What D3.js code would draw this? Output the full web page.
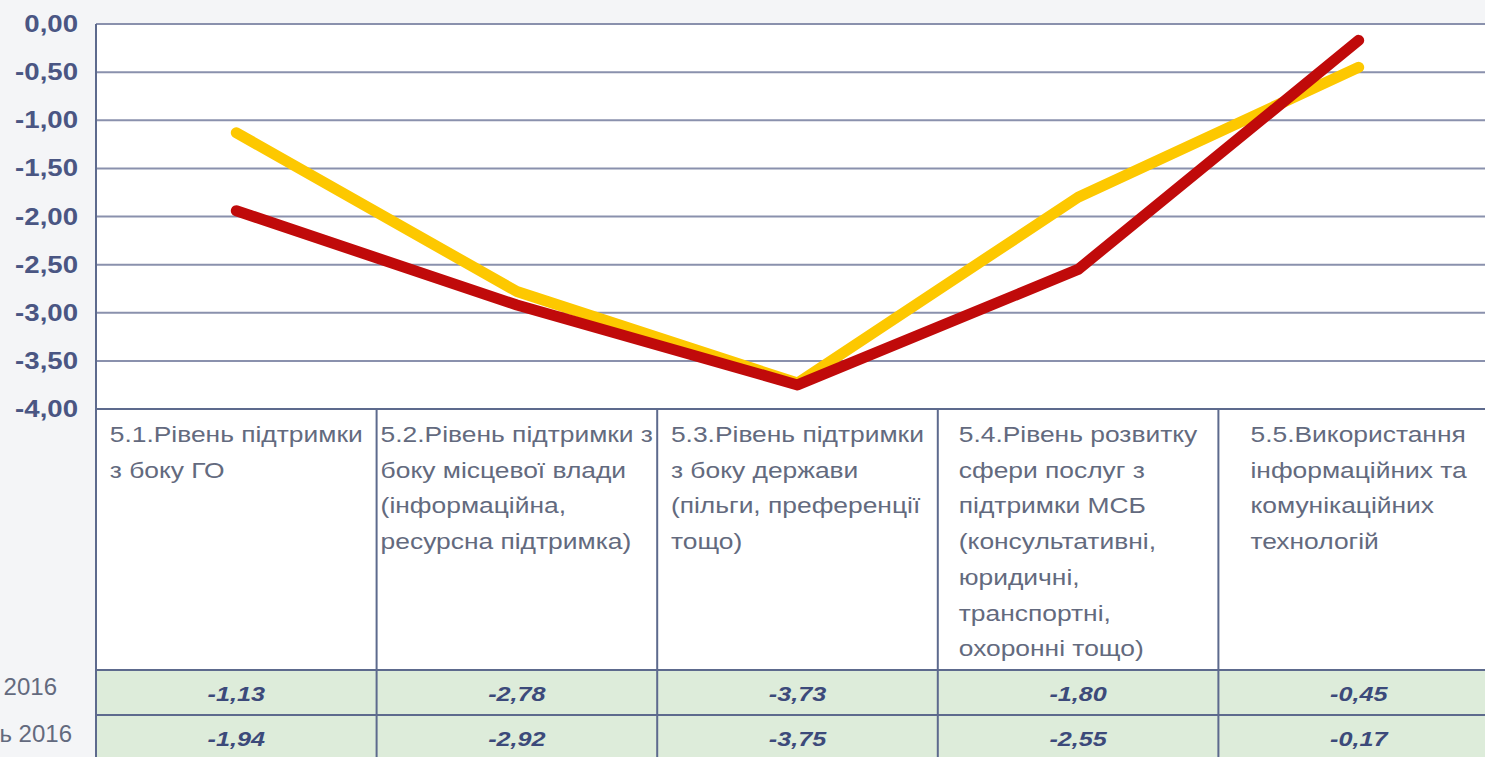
<!DOCTYPE html>
<html>
<head>
<meta charset="utf-8">
<script src="https://cdn.jsdelivr.net/npm/d3@7"></script>
<style>
  html, body { margin: 0; padding: 0; background: #f4f5f7; overflow: hidden; }
  svg { display: block; }
</style>
</head>
<body>
<div id="chart"></div>
<script>
// дані
const categories = ["5.1", "5.2", "5.3", "5.4", "5.5"];
const categoryLines = [
    ["5.1.Рівень підтримки", "з  боку ГО"],
    ["5.2.Рівень підтримки з", "боку місцевої влади", "(інформаційна,", "ресурсна підтримка)"],
    ["5.3.Рівень підтримки", "з боку держави", "(пільги, преференції", "тощо)"],
    ["5.4.Рівень розвитку", "сфери послуг з", "підтримки МСБ", "(консультативні,", "юридичні,", "транспортні,", "охоронні тощо)"],
    ["5.5.Використання", "інформаційних та", "комунікаційних", "технологій"]
];
const seriesNames = ["Березень 2016", "Вересень 2016"];
const seriesColors = ["#fdc800", "#c00a0a"];
const valuesA = [-1.13, -2.78, -3.73, -1.80, -0.45];
const valuesB = [-1.94, -2.92, -3.75, -2.55, -0.17];
const yTicks = [0, -0.5, -1, -1.5, -2, -2.5, -3, -3.5, -4];

const W = 1485, H = 757;
const plotLeft = 96, plotTop = 24, plotBottom = 409;
const headerBottom = 670, rowH = 45;
const colW = 280.6;
const sx = 1.2;

const fmt = v => v.toFixed(2).replace(".", ",");

const svg = d3.select("#chart").append("svg")
    .attr("width", W)
    .attr("height", H);

const x = d3.scaleBand()
    .domain(categories)
    .range([plotLeft, plotLeft + colW * categories.length]);

const y = d3.scaleLinear()
    .domain([-4, 0])
    .range([plotBottom, plotTop]);

// білий фон області
svg.append("rect")
    .attr("x", plotLeft).attr("y", plotTop)
    .attr("width", W - plotLeft).attr("height", headerBottom - plotTop)
    .attr("fill", "#ffffff");

// зелені рядки таблиці
svg.append("rect")
    .attr("x", plotLeft).attr("y", headerBottom)
    .attr("width", W - plotLeft).attr("height", rowH * 2)
    .attr("fill", "#ddecda");

// сітка
svg.selectAll(".grid")
    .data(yTicks.filter(d => d !== -4))
    .enter()
    .append("line")
    .attr("x1", plotLeft).attr("x2", W)
    .attr("y1", d => y(d)).attr("y2", d => y(d))
    .attr("stroke", "#8a91ad")
    .attr("stroke-width", 2);

// підписи осі Y
svg.selectAll(".ytick")
    .data(yTicks)
    .enter()
    .append("text")
    .attr("transform", d => `translate(78,${y(d) + 8}) scale(${sx},1)`)
    .attr("text-anchor", "end")
    .attr("font-family", "Liberation Sans, Arial, sans-serif")
    .attr("font-weight", "bold")
    .attr("font-size", 23)
    .attr("fill", "#4a5683")
    .text(d => fmt(d));

// лінії таблиці
const tableColor = "#5d6a8d";
svg.selectAll(".hline")
    .data([plotBottom, headerBottom, headerBottom + rowH, headerBottom + rowH * 2])
    .enter()
    .append("line")
    .attr("x1", plotLeft).attr("x2", W)
    .attr("y1", d => d).attr("y2", d => d)
    .attr("stroke", tableColor)
    .attr("stroke-width", 2);

svg.selectAll(".vline")
    .data(categories)
    .enter()
    .append("line")
    .attr("x1", d => x(d)).attr("x2", d => x(d))
    .attr("y1", d => d === categories[0] ? plotTop : plotBottom)
    .attr("y2", H)
    .attr("stroke", tableColor)
    .attr("stroke-width", 2);

// заголовки категорій
categories.forEach((c, i) => {
    const g = svg.append("g");
    const texts = g.selectAll("text")
        .data(categoryLines[i])
        .enter()
        .append("text")
        .attr("font-family", "Liberation Sans, Arial, sans-serif")
        .attr("font-size", 22)
        .attr("fill", "#636a7e")
        .text(d => d);
    let maxW = 0;
    texts.each(function () { maxW = Math.max(maxW, this.getComputedTextLength()); });
    const x0 = x(c) + x.bandwidth() / 2 - maxW * sx / 2;
    texts.attr("transform", (d, j) => `translate(${x0},${442 + j * 35.7}) scale(${sx},1)`);
});

// значення в таблиці
[valuesA, valuesB].forEach((vals, r) => {
    svg.selectAll(".val" + r)
        .data(vals)
        .enter()
        .append("text")
        .attr("transform", (d, i) => `translate(${x(categories[i]) + x.bandwidth() / 2},${headerBottom + r * rowH + 31}) scale(${sx},1)`)
        .attr("text-anchor", "middle")
        .attr("font-family", "Liberation Sans, Arial, sans-serif")
        .attr("font-weight", "bold")
        .attr("font-style", "italic")
        .attr("font-size", 21)
        .attr("fill", "#3c4a7a")
        .text(d => fmt(d));

    // назви рядків (обрізані краєм, як в оригіналі)
    svg.append("text")
        .attr("x", r === 0 ? 57 : 72)
        .attr("y", headerBottom + r * rowH + 25 + r * 2)
        .attr("text-anchor", "end")
        .attr("font-family", "Liberation Sans, Arial, sans-serif")
        .attr("font-size", 24)
        .attr("fill", "#636a7e")
        .text(seriesNames[r]);
});

// лінії серій
const line = d3.line()
    .x((d, i) => x(categories[i]) + x.bandwidth() / 2)
    .y(d => y(d));

[valuesA, valuesB].forEach((vals, r) => {
    svg.append("path")
        .datum(vals)
        .attr("d", line)
        .attr("fill", "none")
        .attr("stroke", seriesColors[r])
        .attr("stroke-width", 11)
        .attr("stroke-linecap", "round")
        .attr("stroke-linejoin", "round");
});
</script>
</body>
</html>
